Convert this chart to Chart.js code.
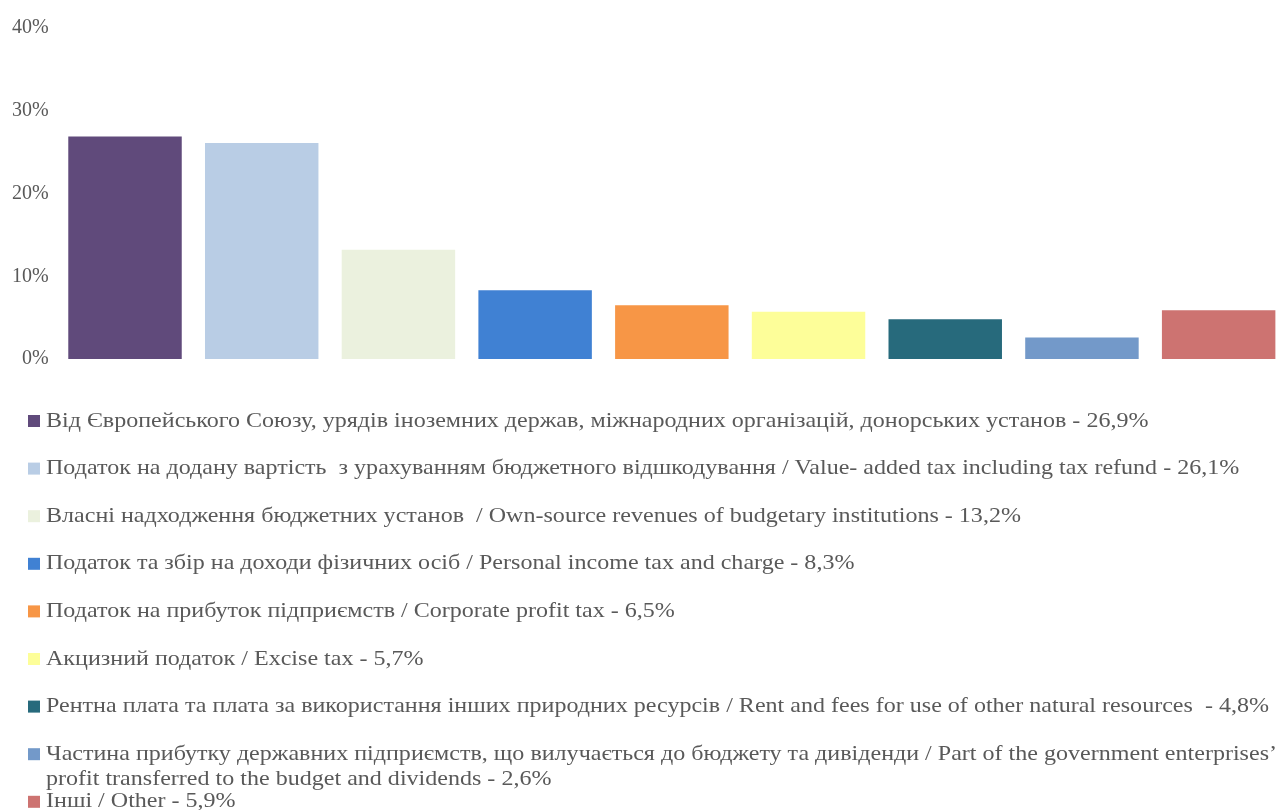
<!DOCTYPE html>
<html>
<head>
<meta charset="utf-8">
<script src="https://cdn.jsdelivr.net/npm/chart.js@4.4.0/dist/chart.umd.min.js"></script>
<style>
  html, body { margin: 0; padding: 0; background: #fff; overflow: hidden; }
  #wrap { width: 1278px; height: 810px; overflow: hidden; }
</style>
</head>
<body>
<div id="wrap"><canvas id="revChart" width="1287" height="810"></canvas></div>
<script>
var categories = [
    'Від Європейського Союзу, урядів іноземних держав, міжнародних організацій, донорських установ - 26,9%',
    'Податок на додану вартість  з урахуванням бюджетного відшкодування / Value- added tax including tax refund - 26,1%',
    'Власні надходження бюджетних установ  / Own-source revenues of budgetary institutions - 13,2%',
    'Податок та збір на доходи фізичних осіб / Personal income tax and charge - 8,3%',
    'Податок на прибуток підприємств / Corporate profit tax - 6,5%',
    'Акцизний податок / Excise tax - 5,7%',
    'Рентна плата та плата за використання інших природних ресурсів / Rent and fees for use of other natural resources  - 4,8%',
    'Частина прибутку державних підприємств, що вилучається до бюджету та дивіденди / Part of the government enterprises’ profit transferred to the budget and dividends - 2,6%',
    'Інші / Other - 5,9%'
];
var shares = [26.9, 26.1, 13.2, 8.3, 6.5, 5.7, 4.8, 2.6, 5.9];
var barColors = ['#604a7b', '#b9cde5', '#ebf1de', '#4081d3', '#f79646', '#fdfe99', '#276a7c', '#7399c9', '#cd7371'];
var yTicks = [0, 10, 20, 30, 40];

var textColor = '#595959';
var fontFamily = "'Liberation Serif', 'Times New Roman', serif";

// legend drawn by hand: one item per row, long ones wrapped
// (the source's legend text is a bit stretched sideways, hence stretchX)
var listLegend = {
    id: 'listLegend',
    afterDraw: function (chart) {
        var ctx = chart.ctx;
        var labels = chart.data.labels;
        var colors = chart.data.datasets[0].backgroundColor;
        var top = 421, step = 47.6, lineH = 25, textX = 46, stretchX = 1.145;
        var maxW = (1284 - textX) / stretchX;
        ctx.save();
        ctx.font = '21px ' + fontFamily;
        ctx.textBaseline = 'middle';
        labels.forEach(function (txt, i) {
            var y = top + i * step;
            ctx.fillStyle = colors[i];
            ctx.fillRect(28, y - 6, 12, 12);
            ctx.fillStyle = textColor;
            var words = txt.split(' ');
            var line = '', lines = [];
            words.forEach(function (w) {
                var test = line === '' ? w : line + ' ' + w;
                if (ctx.measureText(test).width > maxW && line !== '') {
                    lines.push(line);
                    line = w;
                } else {
                    line = test;
                }
            });
            lines.push(line);
            lines.forEach(function (l, k) {
                ctx.save();
                ctx.translate(textX, y + k * lineH);
                ctx.scale(stretchX, 1);
                ctx.fillText(l, 0, 0);
                ctx.restore();
            });
        });
        ctx.restore();
    }
};

var ctx = document.getElementById('revChart').getContext('2d');
var revChart = new Chart(ctx, {
    type: 'bar',
    data: {
        labels: categories,
        datasets: [{
            data: shares,
            backgroundColor: barColors,
            barPercentage: 0.83,
            categoryPercentage: 1
        }]
    },
    options: {
        responsive: false,
        animation: false,
        layout: {
            padding: { left: 4, right: 0, top: 28, bottom: 451 }
        },
        plugins: {
            legend: { display: false },
            tooltip: { enabled: false }
        },
        scales: {
            x: {
                display: false
            },
            y: {
                min: 0,
                max: 40,
                afterBuildTicks: function (axis) {
                    axis.ticks = yTicks.map(function (v) { return { value: v }; });
                },
                grid: { display: false, drawTicks: false },
                border: { display: false },
                ticks: {
                    padding: 8,
                    color: textColor,
                    font: { family: fontFamily, size: 20 },
                    callback: function (v) { return v + '%'; }
                }
            }
        }
    },
    plugins: [listLegend]
});
</script>
</body>
</html>
